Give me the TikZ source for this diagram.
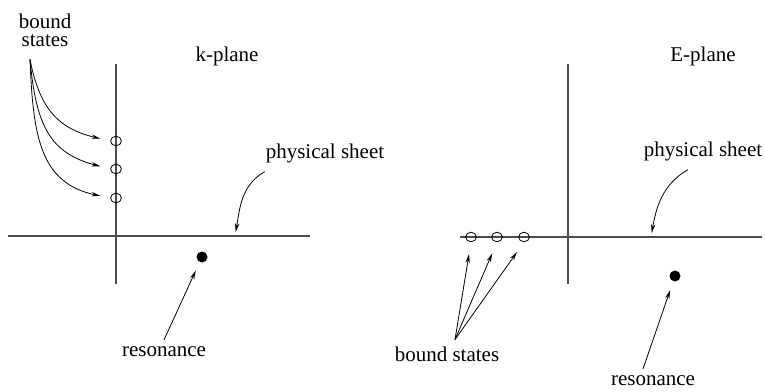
\documentclass[tikz,border=0pt]{standalone}
\usepackage{fontspec}
\setmainfont{Liberation Serif}
\usetikzlibrary{arrows.meta, shapes.geometric}

\begin{document}
\begin{tikzpicture}[x=0.5pt, y=0.5pt,
  axis/.style={black!70, line width=0.6pt},
  pole/.style={draw, ellipse, inner sep=0pt, minimum width=5.4pt, minimum height=4.8pt},
  res/.style={fill, circle, inner sep=0pt, minimum size=5.5pt},
  ptr/.style={-{Stealth[length=4.5pt, width=2.2pt]}, line width=0.4pt},
  lbl/.style={font=\rmfamily\fontsize{10.5}{9}\selectfont, align=center}]
  \useasboundingbox (0,0) rectangle (765,391);
  % k-plane
  \draw[axis] (8,155) -- (310,155);
  \draw[axis] (116,107) -- (116,327);
  \node[pole] (k1) at (116,250) {};
  \node[pole] (k2) at (116,222) {};
  \node[pole] (k3) at (116,193) {};
  \node[res] (dotK) at (202,134) {};
  \node[lbl] (bsK) at (45,361) {bound\\states};
  \node[lbl] (kplane) at (227,335) {k-plane};
  \node[lbl] (psK) at (325,238) {physical sheet};
  \node[lbl] (resK) at (164,39) {resonance};
  \coordinate (cutK) at (235,155);
  \draw[ptr, shorten >=5pt] ([xshift=-7.5pt,yshift=-3pt]bsK.south) .. controls (40,280) and (60,262) .. (k1.west);
  \draw[ptr, shorten >=5pt] ([xshift=-7.5pt,yshift=-3pt]bsK.south) .. controls (36,265) and (50,238) .. (k2.west);
  \draw[ptr, shorten >=5pt] ([xshift=-7.5pt,yshift=-3pt]bsK.south) .. controls (33,255) and (40,208) .. (k3.west);
  \draw[ptr, shorten >=2pt] ([xshift=3pt,yshift=-1pt]psK.south west) to[out=210, in=80] (cutK);
  \draw[ptr, shorten >=4.5pt] (resK.north) -- (dotK);
  % E-plane
  \draw[axis] (460,154) -- (762,154);
  \draw[axis] (568,107) -- (568,327);
  \node[pole] (e1) at (471,154) {};
  \node[pole] (e2) at (497,154) {};
  \node[pole] (e3) at (524,154) {};
  \node[res] (dotE) at (675,115) {};
  \node[lbl] (eplane) at (703,335) {E-plane};
  \node[lbl] (psE) at (703,240) {physical sheet};
  \node[lbl] (bsE) at (447,37) {bound states};
  \node[lbl] (resE) at (653,10) {resonance};
  \coordinate (cutE) at (651,154);
  \foreach \e in {e1,e2,e3}
    \draw[ptr, shorten >=6pt] ([xshift=4pt]bsE.north) -- (\e.south);
  \draw[ptr, shorten >=2pt] ([xshift=-7.5pt,yshift=-1pt]psE.south) to[out=210, in=80] (cutE);
  \draw[ptr, shorten >=4.5pt] ([xshift=-5pt]resE.north) -- (dotE);
\end{tikzpicture}
\end{document}
